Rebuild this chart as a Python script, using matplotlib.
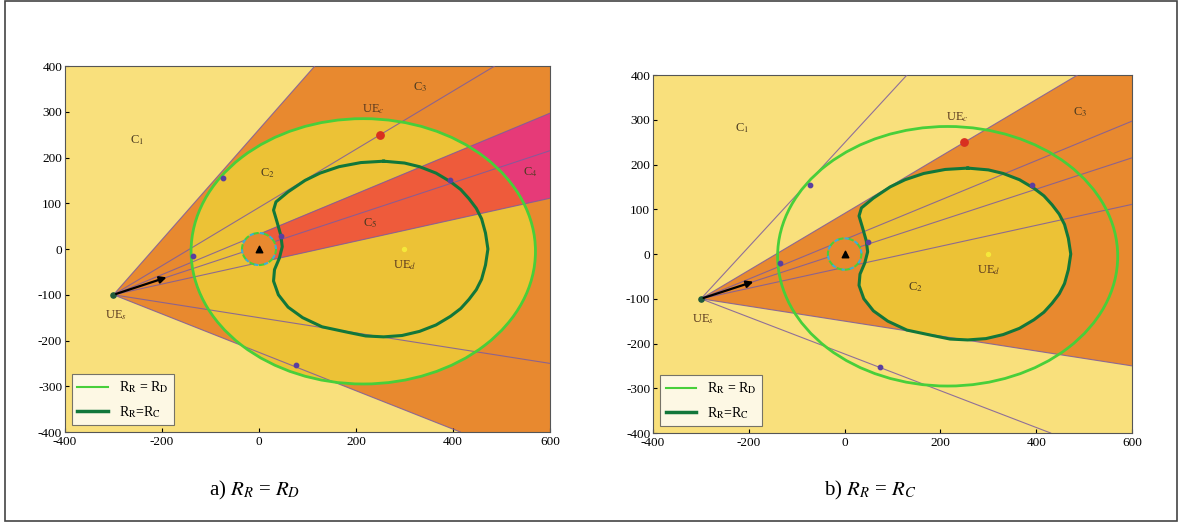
import matplotlib
matplotlib.use('Agg')
import matplotlib.pyplot as plt
from matplotlib.patches import Polygon, Ellipse, Rectangle

plt.rcParams['font.family'] = ['Liberation Serif', 'DejaVu Serif']
plt.rcParams['mathtext.fontset'] = 'stix'
plt.rcParams['axes.unicode_minus'] = False

# node positions
ue_s = (-300, -100)
bs = (0, 0)
ue_c = (250, 250)
ue_d = (300, 0)
arrow_tip = (-185, -60)
bs_radius = 35

# R_R = R_D contour (ellipse)
rd_center = (215, -5)
rd_width = 710
rd_height = 580

# R_R = R_C contour
rc_x = [257, 300, 331, 365, 395, 416, 433, 448, 459, 467, 472, 467, 459, 448, 433, 416,
        395, 365, 331, 295, 257, 220, 183, 130, 90, 60, 40, 30, 32, 42, 48, 45,
        37, 30, 35, 60, 95, 126, 165, 210, 257]
rc_y = [192, 188, 180, 166, 147, 130, 110, 89, 66, 35, 0, -35, -66, -89, -110, -130,
        -147, -166, -180, -189, -192, -190, -182, -170, -150, -127, -100, -70, -45, -20, 5, 30,
        60, 85, 103, 125, 150, 166, 180, 189, 192]

# rays from UE_s
rays_a = [(115, 400), (486, 400), (600, 297), (600, 215), (600, 111), (600, -250), (415, -400)]
rays_b = [(130, 400), (486, 400), (600, 297), (600, 215), (600, 111), (600, -250), (430, -400)]

# coloured regions
orange_a = [(-300, -100), (115, 400), (600, 400), (600, -400), (415, -400)]
orange_b = [(-300, -100), (486, 400), (600, 400), (600, -250)]
shadow = [(0, 33), (600, 297), (600, 111), (0, -30)]

# small marks on the contours
marks_a = [(-74, 155), (76, -253), (45, 28), (394, 151), (-135, -15)]
marks_b = [(-72, 154), (74, -253), (49, 27), (391, 154), (-135, -20)]

# region labels
labels_a = [('C$_1$', -252, 238), ('C$_2$', 18, 166), ('C$_3$', 332, 354),
            ('C$_4$', 559, 168), ('C$_5$', 229, 57)]
labels_b = [('C$_1$', -214, 282), ('C$_3$', 491, 317), ('C$_2$', 147, -74)]

c_light = '#f9e07c'
c_gold = '#ecc236'
c_orange = '#e8892f'
c_red = '#ee5b3b'
c_magenta = '#e63a78'
c_lgreen = '#48cf3a'
c_dgreen = '#12773a'
c_purple = '#7d5c9e'

fig = plt.figure(figsize=(11.79, 5.25), dpi=100)
ax_a = fig.add_axes([0.0551, 0.1771, 0.4114, 0.6971])
ax_b = fig.add_axes([0.5539, 0.1752, 0.4063, 0.6819])


def draw_panel(ax, panel):
    ax.set_facecolor(c_light)
    if panel == 'a':
        ax.add_patch(Polygon(orange_a, closed=True, color=c_orange, lw=0, zorder=1))
        ax.add_patch(Polygon(shadow, closed=True, color=c_magenta, lw=0, zorder=2))
        ax.add_patch(Ellipse(rd_center, rd_width, rd_height, color=c_gold, lw=0, zorder=3))
        clip = Ellipse(rd_center, rd_width, rd_height, transform=ax.transData)
        red = Polygon(shadow, closed=True, color=c_red, lw=0, zorder=4)
        ax.add_patch(red)
        red.set_clip_path(clip)
        rays, marks, labels = rays_a, marks_a, labels_a
    else:
        ax.add_patch(Polygon(orange_b, closed=True, color=c_orange, lw=0, zorder=1))
        ax.add_patch(Polygon(list(zip(rc_x, rc_y)), closed=True, color=c_gold, lw=0, zorder=3))
        rays, marks, labels = rays_b, marks_b, labels_b

    # rays
    for ex, ey in rays:
        ax.plot([ue_s[0], ex], [ue_s[1], ey], color=c_purple, lw=0.8, alpha=0.85, zorder=5)

    # contours
    ax.add_patch(Ellipse(rd_center, rd_width, rd_height, fill=False, ec=c_lgreen, lw=2, zorder=6))
    ax.plot(rc_x, rc_y, color=c_dgreen, lw=2.2, zorder=6, solid_joinstyle='round')
    ax.plot([], [], color=c_lgreen, lw=1.5, label='R$_{\\rm R}$ = R$_{\\rm D}$')
    ax.plot([], [], color=c_dgreen, lw=2.5, label='R$_{\\rm R}$=R$_{\\rm C}$')

    mx = [m[0] for m in marks]
    my = [m[1] for m in marks]
    ax.scatter(mx, my, s=10, color='#5a3fa0', zorder=7)

    # base station
    ax.add_patch(Ellipse(bs, 2 * bs_radius, 2 * bs_radius, color=c_orange, lw=0, zorder=6))
    ax.add_patch(Ellipse(bs, 2 * bs_radius, 2 * bs_radius, fill=False, ec=c_lgreen,
                         lw=1.5, ls=(0, (3, 2)), zorder=7))
    ax.add_patch(Ellipse(bs, 2 * bs_radius, 2 * bs_radius, fill=False, ec='#3bb0d8',
                         lw=1.5, ls=(2.5, (2, 3)), zorder=7))
    ax.scatter([bs[0]], [bs[1]], marker='^', s=22, color='black', zorder=8)

    # users
    ax.scatter([ue_c[0]], [ue_c[1]], s=28, color='#d83020', zorder=8)
    ax.scatter([ue_d[0]], [ue_d[1]], s=8, color='#f5e83a', zorder=8)
    ax.scatter([ue_s[0]], [ue_s[1]], s=14, color='#1f5a3a', zorder=8)
    ax.annotate('', xy=arrow_tip, xytext=ue_s,
                arrowprops=dict(arrowstyle='-|>', color='black', lw=1.6, mutation_scale=10),
                zorder=9)
    ax.text(ue_c[0] - 15, ue_c[1] + 55, 'UE$_c$', fontsize=9, color='#5a3a20',
            ha='center', va='center', zorder=9)
    ax.text(ue_d[0], ue_d[1] - 35, 'UE$_d$', fontsize=9, color='#5a3a20',
            ha='center', va='center', zorder=9)
    ax.text(ue_s[0] + 5, ue_s[1] - 45, 'UE$_s$', fontsize=9, color='#5a3a20',
            ha='center', va='center', zorder=9)

    for txt, x, y in labels:
        ax.text(x, y, txt, fontsize=9, color='#4a3a20', ha='center', va='center', zorder=9)

    ax.set_xlim(-400, 600)
    ax.set_ylim(-400, 400)
    ax.set_xticks([-400, -200, 0, 200, 400, 600])
    ax.set_yticks([-400, -300, -200, -100, 0, 100, 200, 300, 400])
    ax.tick_params(direction='in', length=3, labelsize=9.5, pad=2)
    ax.tick_params(axis='x', pad=3)
    for s in ax.spines.values():
        s.set_color('#555555')
        s.set_linewidth(0.8)
    leg = ax.legend(loc='lower left', fontsize=10, frameon=True, fancybox=False,
                    borderpad=0.4, handlelength=2.2, labelspacing=0.6)
    leg.get_frame().set_edgecolor('#555555')
    leg.get_frame().set_linewidth(0.8)
    leg.set_zorder(10)


draw_panel(ax_a, 'a')
draw_panel(ax_b, 'b')

fig.text(255 / 1179, 1 - 490 / 525, 'a) $R_R$ = $R_D$', fontsize=15, ha='center', va='center')
fig.text(870 / 1179, 1 - 490 / 525, 'b) $R_R$ = $R_C$', fontsize=15, ha='center', va='center')

# outer frame
fig.add_artist(Rectangle((5 / 1179, 1 - 521 / 525), 1172 / 1179, 520 / 525,
                         transform=fig.transFigure, fill=False, ec='#444444', lw=1.2))

fig.savefig('out.png', dpi=100)
